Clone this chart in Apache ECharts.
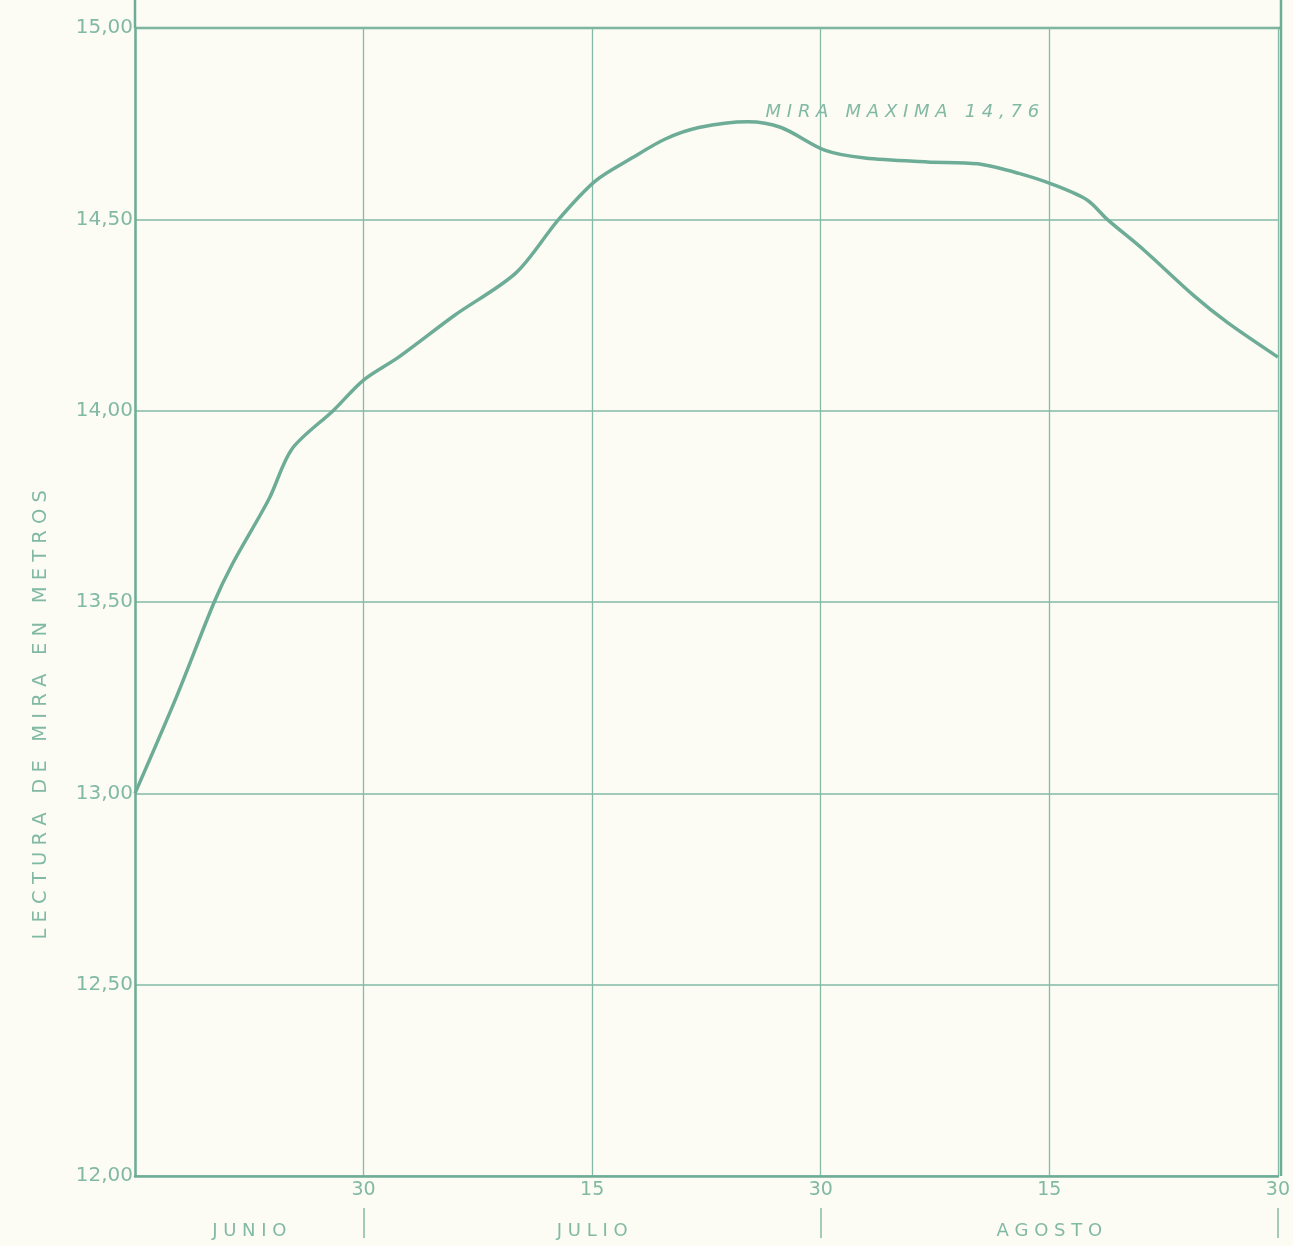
<!DOCTYPE html>
<html><head><meta charset="utf-8">
<script src="https://cdn.jsdelivr.net/npm/echarts@6/dist/echarts.min.js"></script>
<style>html,body{margin:0;padding:0;background:#fcfcf5}#c{width:1293px;height:1246px}</style>
</head><body><div id="c"></div>
<script>
// Days counted from 15 June
const days   = [0, 2.7, 5.2, 6.4, 8.8, 10.3, 13.0, 15, 17.3, 21, 25, 27.8, 30.2, 32.6, 34.8, 37, 40.2, 42.4, 45.3, 47.9, 52, 55.3, 58, 60.3, 62.5, 63.8, 66.2, 69.5, 71.7, 75];
const levels = [13.00, 13.25, 13.50, 13.60, 13.77, 13.90, 14.00, 14.08, 14.14, 14.25, 14.36, 14.50, 14.60, 14.66, 14.71, 14.74, 14.755, 14.74, 14.68, 14.66, 14.65, 14.645, 14.62, 14.59, 14.55, 14.50, 14.42, 14.30, 14.23, 14.14];
const dayTicks = [15, 30, 45, 60, 75];
const dayTickLabels = ['30', '15', '30', '15', '30'];
const monthPositions = [7.5, 30, 60];
const monthNames = ['JUNIO', 'JULIO', 'AGOSTO'];
const monthDividers = [15, 45, 75];
const yMin = 12, yMax = 15, yStep = 0.5;
const yAxisTitle = 'L E C T U R A   D E   M I R A   E N   M E T R O S';
const peakNote = 'M I R A   M A X I M A   1 4 , 7 6';

const LINE = '#6dac96', GRID = '#84baa6', TEXT = '#82b9a4';
const chart = echarts.init(document.getElementById('c'));
const series = days.map((d, i) => [d, levels[i]]);
chart.setOption({
  backgroundColor: '#fcfcf5',
  animation: false,
  grid: { left: 135, right: 12, top: 28, bottom: 70 },
  xAxis: [{
    type: 'value', min: 0, max: 75, interval: 15,
    axisLine: { show: true, lineStyle: { color: LINE, width: 2.5 } },
    axisTick: { show: false },
    splitLine: { show: true, lineStyle: { color: GRID, width: 1.3 } },
    axisLabel: {
      color: TEXT, fontFamily: 'DejaVu Sans', fontSize: 19, margin: 5,
      formatter: v => { const i = dayTicks.indexOf(v); return i >= 0 ? dayTickLabels[i] : ''; }
    }
  }, {
    type: 'value', min: 0, max: 75, position: 'bottom', offset: 32,
    axisLine: { show: false },
    axisTick: { show: true, customValues: monthDividers, length: 30, lineStyle: { color: GRID, width: 1.5 } },
    splitLine: { show: false },
    axisLabel: {
      customValues: monthPositions, color: TEXT, fontFamily: 'DejaVu Sans', fontSize: 18, margin: 14,
      formatter: v => { const i = monthPositions.indexOf(v); return i >= 0 ? monthNames[i].split('').join(' ') : ''; }
    }
  }],
  yAxis: {
    type: 'value', min: yMin, max: yMax, interval: yStep,
    axisLine: { show: true, lineStyle: { color: LINE, width: 2.5 } },
    axisTick: { show: false },
    splitLine: { show: true, lineStyle: { color: GRID, width: 1.5 } },
    axisLabel: {
      color: TEXT, fontFamily: 'DejaVu Sans', fontSize: 20, margin: 2,
      formatter: v => v.toFixed(2).replace('.', ',')
    }
  },
  graphic: [
    { type: 'text', left: 31, top: 490, rotation: Math.PI / 2,
      style: { text: yAxisTitle, fill: TEXT, font: '19.5px "DejaVu Sans"' } },
    { type: 'line', shape: { x1: 135, y1: 0, x2: 135, y2: 28 }, style: { stroke: LINE, lineWidth: 2.5 } },
    { type: 'line', shape: { x1: 1281, y1: 0, x2: 1281, y2: 28 }, style: { stroke: LINE, lineWidth: 2.5 } },
    { type: 'line', shape: { x1: 1281, y1: 28, x2: 1281, y2: 1176 }, style: { stroke: LINE, lineWidth: 2.5 } },
    { type: 'line', shape: { x1: 135, y1: 28, x2: 1281, y2: 28 }, style: { stroke: LINE, lineWidth: 2.5 } }
  ],
  series: [{
    type: 'line', data: series, smooth: 0.3, showSymbol: false,
    lineStyle: { color: LINE, width: 3.5 },
    markPoint: {
      symbolSize: 0,
      data: [{ type: 'max' }],
      label: {
        show: true, position: 'right', offset: [13, -9], formatter: peakNote,
        color: TEXT, fontFamily: 'DejaVu Sans', fontStyle: 'italic', fontSize: 18
      }
    }
  }]
});
</script></body></html>
